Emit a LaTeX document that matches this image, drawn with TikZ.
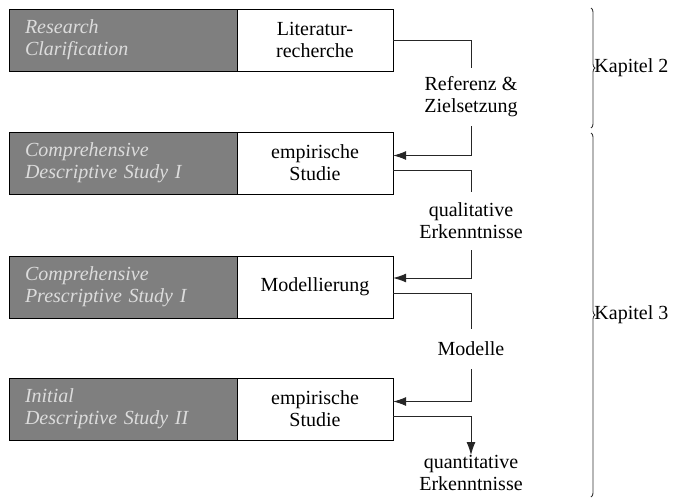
\documentclass[tikz,border=0pt]{standalone}
\usepackage{fontspec}
\setmainfont{Liberation Serif}
\usetikzlibrary{arrows.meta,decorations.pathreplacing,positioning}
\definecolor{phasefill}{HTML}{7F7F7F}
\definecolor{phasetext}{HTML}{DCDCDC}
\begin{document}
\begin{tikzpicture}[x=1pt,y=-1pt,
  every node/.style={font=\fontsize{20}{22}\selectfont},
  phase/.style={draw=black,fill=phasefill,text=phasetext,font=\fontsize{20}{22}\selectfont\itshape,
    minimum width=228pt,minimum height=62pt,align=left,text width=196pt,inner sep=0pt},
  act/.style={draw=black,fill=white,minimum width=156pt,minimum height=62pt,align=center,inner sep=0pt},
  lbl/.style={align=center,inner sep=0pt,minimum height=58pt},
  conn/.style={draw=black!85,line width=0.9pt},
  arr/.style={conn,-{Latex[length=13pt,width=9pt]}},
  brc/.style={draw=black!80,line width=0.9pt,decorate,decoration={brace,amplitude=4pt}}]
\useasboundingbox (0,0) rectangle (675,501);
% rows
\node[phase] (p1) at (123,40) {Research\\Clarification};
\node[act] (a1) at (315,40) {Literatur-\\recherche};
\node[phase] (p2) at (123,163) {Comprehensive\\Descriptive Study I};
\node[act] (a2) at (315,163) {empirische\\Studie};
\node[phase] (p3) at (123,287) {Comprehensive\\Prescriptive Study I};
\node[act] (a3) at (315,287) {Modellierung};
\node[phase] (p4) at (123,409) {Initial\\Descriptive Study II};
\node[act] (a4) at (315,409) {empirische\\Studie};
% labels
\node[lbl] (l1) at (471,97) {Referenz \&\\Zielsetzung};
\node[lbl] (l2) at (471,221) {qualitative\\Erkenntnisse};
\node[lbl,minimum height=40pt] (l3) at (471,349) {Modelle};
\node[lbl,minimum height=30pt,anchor=north] (l4) at (471,455) {quantitative\\Erkenntnisse};
% connectors
\draw[conn] (a1.east) -| (l1.north);
\draw[arr] (l1.south) |- ([yshift=7.5pt]a2.east);
\draw[conn] ([yshift=-7.5pt]a2.east) -| (l2.north);
\draw[arr] (l2.south) |- ([yshift=9pt]a3.east);
\draw[conn] ([yshift=-6pt]a3.east) -| (l3.north);
\draw[arr] (l3.south) |- ([yshift=7.5pt]a4.east);
\draw[arr] ([yshift=-7.5pt]a4.east) -| (l4.north);
% braces
\coordinate (b1t) at (591,8);
\coordinate (b1b) at (591,128);
\coordinate (b2t) at (591,133);
\coordinate (b2b) at (591,497);
\draw[brc] (b1t) -- (b1b) node[midway,right=3pt,inner sep=0pt] (k2) {Kapitel 2};
\draw[brc] (b2t) -- (b2b) node[midway,right=3pt,inner sep=0pt] (k3) {Kapitel 3};
\end{tikzpicture}
\end{document}
